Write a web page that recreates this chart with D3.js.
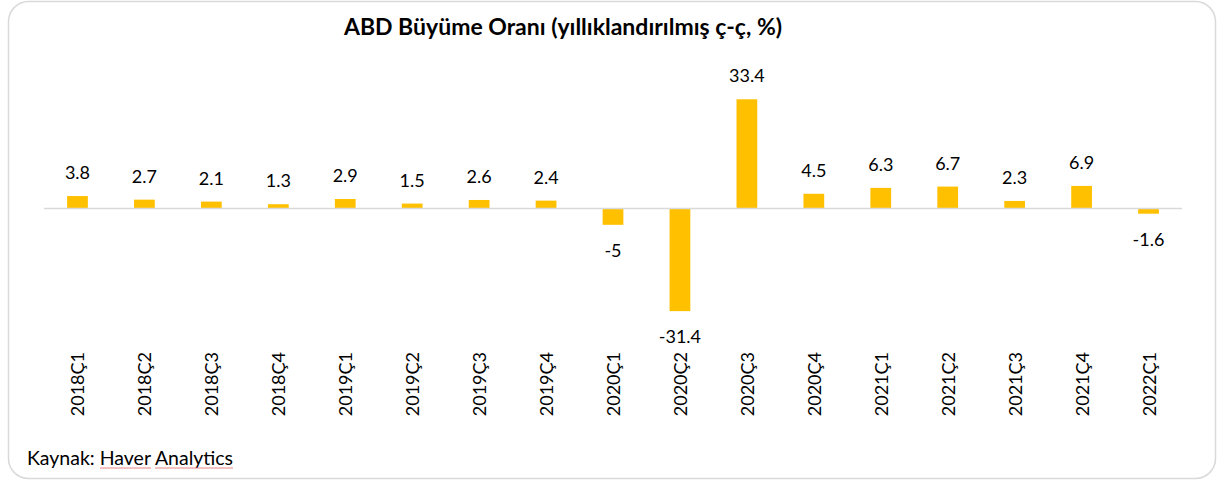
<!DOCTYPE html>
<html>
<head>
<meta charset="utf-8">
<script src="https://cdn.jsdelivr.net/npm/d3@7"></script>
<style>
  body { margin: 0; background: #fff; }
  text { font-family: Lato, "Open Sans", sans-serif; fill: #000; }
</style>
</head>
<body>
<div id="main"></div>
<script>
const width = 1219;
const height = 482;
const margin = { left: 44, right: 37, top: 78, bottom: 0 };

const quarters = [
  "2018Ç1", "2018Ç2", "2018Ç3", "2018Ç4",
  "2019Ç1", "2019Ç2", "2019Ç3", "2019Ç4",
  "2020Ç1", "2020Ç2", "2020Ç3", "2020Ç4",
  "2021Ç1", "2021Ç2", "2021Ç3", "2021Ç4",
  "2022Ç1",
];
const growth = [3.8, 2.7, 2.1, 1.3, 2.9, 1.5, 2.6, 2.4, -5, -31.4, 33.4, 4.5, 6.3, 6.7, 2.3, 6.9, -1.6];

const svg = d3
  .select("#main")
  .append("svg")
  .attr("width", width)
  .attr("height", height);

// frame
svg
  .append("rect")
  .attr("x", 8.5)
  .attr("y", 1.5)
  .attr("width", 1207)
  .attr("height", 477)
  .attr("rx", 20)
  .attr("fill", "#fff")
  .attr("stroke", "#d9d9d9")
  .attr("stroke-width", 1.5);

svg
  .append("text")
  .attr("x", 563)
  .attr("y", 35)
  .attr("text-anchor", "middle")
  .style("font-size", "23px")
  .style("font-weight", "bold")
  .text("ABD Büyüme Oranı (yıllıklandırılmış ç-ç, %)");

const x = d3
  .scaleBand()
  .domain(quarters)
  .range([margin.left, width - margin.right])
  .paddingInner(0.69)
  .paddingOuter(0.345);

const y = d3.scaleLinear().domain([-35, 40]).range([322.9, 77.7]);

const data = quarters.map((q, i) => ({ q, v: growth[i] }));

svg
  .append("g")
  .selectAll("rect")
  .data(data)
  .enter()
  .append("rect")
  .attr("x", (d) => x(d.q))
  .attr("y", (d) => Math.min(y(d.v), y(0)))
  .attr("width", x.bandwidth())
  .attr("height", (d) => Math.abs(y(d.v) - y(0)))
  .attr("fill", "#ffc000");

// zero line
svg
  .append("line")
  .attr("x1", margin.left)
  .attr("x2", width - margin.right)
  .attr("y1", y(0))
  .attr("y2", y(0))
  .attr("stroke", "#d9d9d9")
  .attr("stroke-width", 1.5);

// value labels
svg
  .append("g")
  .selectAll("text")
  .data(data)
  .enter()
  .append("text")
  .attr("x", (d) => x(d.q) + x.bandwidth() / 2)
  .attr("y", (d) => (d.v >= 0 ? y(d.v) - 17 : y(d.v) + 32))
  .attr("text-anchor", "middle")
  .style("font-size", "18px")
  .text((d) => d.v);

// category labels
svg
  .append("g")
  .selectAll("text")
  .data(quarters)
  .enter()
  .append("text")
  .attr(
    "transform",
    (d) => `translate(${x(d) + x.bandwidth() / 2 + 7},352) rotate(-90)`
  )
  .attr("text-anchor", "end")
  .style("font-size", "18px")
  .text((d) => d);

// source
svg
  .append("text")
  .attr("x", 27)
  .attr("y", 465)
  .style("font-size", "19.5px")
  .text("Kaynak: Haver Analytics");

svg
  .append("line")
  .attr("x1", 100)
  .attr("x2", 151)
  .attr("y1", 468)
  .attr("y2", 468)
  .attr("stroke", "#e06666")
  .attr("stroke-width", 0.8);
svg
  .append("line")
  .attr("x1", 155)
  .attr("x2", 233)
  .attr("y1", 468)
  .attr("y2", 468)
  .attr("stroke", "#e06666")
  .attr("stroke-width", 0.8);
</script>
</body>
</html>
